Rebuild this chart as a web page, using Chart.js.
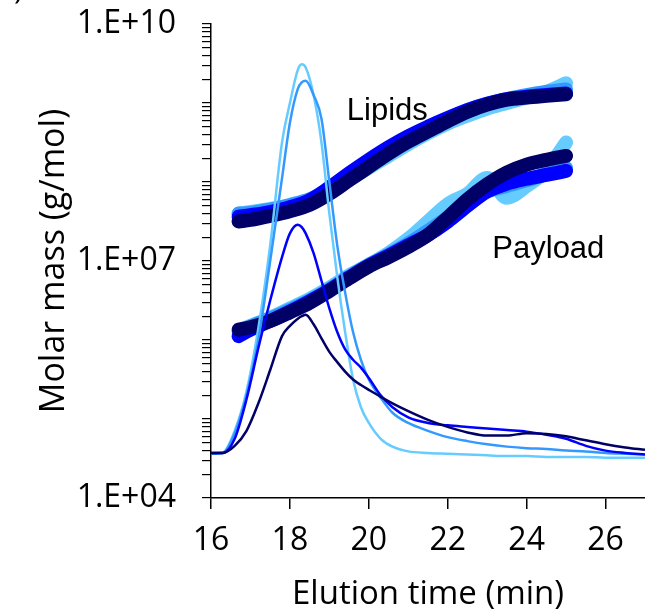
<!DOCTYPE html>
<html>
<head>
<meta charset="utf-8">
<script src="https://cdn.jsdelivr.net/npm/chart.js@4.4.0/dist/chart.umd.min.js"></script>
<style>
    html, body { margin: 0; padding: 0; background: #fff; }
    #wrap { width: 645px; height: 610px; }
</style>
</head>
<body>
<div id="wrap"><canvas id="myChart" width="645" height="610"></canvas></div>
<script>
// elution times of the detector traces (min)
const tiempoTraza = [16.0, 16.3, 16.6, 16.9, 17.2, 17.5, 17.8, 18.0, 18.2, 18.3, 18.4, 18.6, 18.8, 19.0, 19.2, 19.4,
    19.6, 19.8, 20.0, 20.3, 20.6, 21.0, 21.5, 22.0, 22.5, 23.0, 23.5, 24.0, 24.5, 25.0, 25.5, 26.0, 26.5, 27.0];

const trazaCeleste = [3.72e4, 3.80e4, 7.08e4, 2.24e5, 1.41e6, 1.58e7, 3.16e8, 1.00e9, 2.63e9, 3.09e9, 2.82e9, 1.26e9,
    3.16e8, 3.98e7, 6.31e6, 1.26e6, 3.16e5, 1.41e5, 8.91e4, 5.62e4, 4.47e4, 3.89e4, 3.72e4, 3.63e4, 3.55e4, 3.47e4,
    3.39e4, 3.39e4, 3.31e4, 3.31e4, 3.31e4, 3.24e4, 3.24e4, 3.24e4];
const trazaMedia = [3.63e4, 3.72e4, 6.61e4, 2.00e5, 1.00e6, 1.00e7, 1.12e8, 5.62e8, 1.51e9, 1.82e9, 1.91e9, 1.26e9,
    6.31e8, 1.00e8, 1.58e7, 3.98e6, 1.26e6, 5.62e5, 3.16e5, 1.86e5, 1.20e5, 8.91e4, 7.08e4, 5.89e4, 5.25e4, 4.79e4,
    4.47e4, 4.27e4, 4.17e4, 3.98e4, 3.89e4, 3.72e4, 3.63e4, 3.55e4];
const trazaAzul = [3.72e4, 3.72e4, 5.62e4, 1.78e5, 7.94e5, 3.16e6, 1.12e7, 2.24e7, 2.88e7, 2.69e7, 2.24e7, 1.26e7,
    5.62e6, 2.51e6, 1.26e6, 7.59e5, 5.62e5, 4.47e5, 3.31e5, 2.00e5, 1.41e5, 1.05e5, 8.91e4, 8.32e4, 7.94e4, 7.59e4,
    7.24e4, 6.92e4, 6.31e4, 5.62e4, 4.57e4, 3.98e4, 3.72e4, 3.55e4];
const trazaMarino = [3.72e4, 3.72e4, 4.57e4, 7.08e4, 1.58e5, 4.17e5, 1.12e6, 1.51e6, 1.86e6, 2.00e6, 2.09e6, 1.58e6,
    1.05e6, 7.08e5, 5.25e5, 3.98e5, 3.16e5, 2.69e5, 2.34e5, 1.91e5, 1.58e5, 1.26e5, 9.77e4, 7.94e4, 6.76e4, 6.17e4,
    6.17e4, 6.61e4, 6.46e4, 6.03e4, 5.37e4, 4.79e4, 4.37e4, 4.07e4];

// elution times of the molar mass points (min)
const tiempoMasa = [16.7, 17.0, 17.5, 18.0, 18.5, 19.0, 19.5, 20.0, 20.5, 21.0, 21.5, 22.0, 22.5, 23.0, 23.5, 24.0, 24.5, 25.0];

// molar mass, lipids (g/mol)
const lipidosCeleste = [3.98e7, 4.17e7, 4.57e7, 5.01e7, 5.75e7, 7.59e7, 1.07e8, 1.51e8, 2.14e8, 3.02e8, 4.17e8, 5.50e8,
    6.92e8, 8.51e8, 1.00e9, 1.17e9, 1.38e9, 1.78e9];
const lipidosMedia = [3.98e7, 4.07e7, 4.47e7, 5.13e7, 6.03e7, 8.13e7, 1.17e8, 1.74e8, 2.57e8, 3.55e8, 4.79e8, 6.31e8,
    8.13e8, 9.77e8, 1.12e9, 1.26e9, 1.38e9, 1.48e9];
const lipidosAzul = [3.63e7, 3.80e7, 4.17e7, 4.79e7, 5.89e7, 8.51e7, 1.29e8, 1.91e8, 2.75e8, 3.80e8, 5.01e8, 6.46e8,
    8.13e8, 9.77e8, 1.12e9, 1.20e9, 1.26e9, 1.32e9];
const lipidosMarino = [3.16e7, 3.31e7, 3.72e7, 4.27e7, 5.13e7, 7.08e7, 1.05e8, 1.55e8, 2.29e8, 3.24e8, 4.37e8, 5.89e8,
    7.76e8, 9.55e8, 1.10e9, 1.17e9, 1.23e9, 1.29e9];

// molar mass, payload (g/mol)
const cargaCeleste = [1.32e6, 1.51e6, 1.91e6, 2.51e6, 3.31e6, 4.57e6, 6.61e6, 8.91e6, 1.26e7, 1.91e7, 3.16e7, 5.25e7,
    7.08e7, 1.12e8, 6.31e7, 8.91e7, 1.41e8, 3.16e8];
const cargaMedia = [1.26e6, 1.48e6, 1.86e6, 2.40e6, 3.16e6, 4.37e6, 6.31e6, 8.91e6, 1.20e7, 1.66e7, 2.40e7, 3.55e7,
    5.25e7, 7.59e7, 8.91e7, 1.05e8, 1.26e8, 1.51e8];
const cargaAzul = [1.12e6, 1.35e6, 1.74e6, 2.29e6, 3.09e6, 4.27e6, 6.17e6, 8.71e6, 1.17e7, 1.58e7, 2.14e7, 3.16e7,
    5.01e7, 7.59e7, 9.55e7, 1.10e8, 1.23e8, 1.38e8];
const cargaMarino = [1.35e6, 1.45e6, 1.74e6, 2.24e6, 2.95e6, 4.17e6, 6.03e6, 8.51e6, 1.12e7, 1.51e7, 2.14e7, 3.55e7,
    6.03e7, 9.33e7, 1.32e8, 1.66e8, 1.91e8, 2.14e8];

// axis ticks and labels
const ticksX = [16, 18, 20, 22, 24, 26];
const etiquetasY = { 1e4: '1.E+04', 1e7: '1.E+07', 1e10: '1.E+10' };

// text labels inside the plot: [text, time, molar mass]
const rotulos = [['Lipids', 20.47, 6.1e8], ['Payload', 24.55, 1.08e7]];

const celeste = '#66CCFF';
const media = '#3399FF';
const azul = '#0000FF';
const marino = '#000066';

function puntos(tiempos, valores) {
    return tiempos.map((t, i) => ({ x: t, y: valores[i] }));
}

function traza(valores, color, orden) {
    return {
        data: puntos(tiempoTraza, valores),
        borderColor: color,
        borderWidth: 2.5,
        pointRadius: 0,
        cubicInterpolationMode: 'monotone',
        order: orden
    };
}

function banda(valores, color, orden) {
    return {
        data: puntos(tiempoMasa, valores),
        borderColor: color,
        borderWidth: 14,
        borderCapStyle: 'round',
        borderJoinStyle: 'round',
        pointRadius: 0,
        cubicInterpolationMode: 'monotone',
        order: orden
    };
}

const fuenteTicks = { family: 'Open Sans', size: 32 };

// text labels and the cut-off panel letter
const pluginRotulos = {
    id: 'rotulos',
    afterDatasetsDraw(chart) {
        const ctx = chart.ctx;
        const x = chart.scales.x;
        const y = chart.scales.y;
        ctx.save();
        ctx.fillStyle = '#000';
        ctx.font = '31px "Liberation Sans"';
        ctx.textAlign = 'center';
        ctx.textBaseline = 'alphabetic';
        rotulos.forEach(r => {
            ctx.fillText(r[0], x.getPixelForValue(r[1]), y.getPixelForValue(r[2]));
        });
        ctx.font = '30px "Open Sans"';
        ctx.textAlign = 'left';
        ctx.fillText(')', 14, -1);
        ctx.restore();
    }
};

const ctx = document.getElementById('myChart').getContext('2d');
const myChart = new Chart(ctx, {
    type: 'line',
    data: {
        datasets: [
            traza(trazaMarino, marino, 0),
            traza(trazaAzul, azul, 1),
            traza(trazaMedia, media, 2),
            traza(trazaCeleste, celeste, 3),
            banda(lipidosMarino, marino, 4),
            banda(cargaMarino, marino, 4),
            banda(lipidosAzul, azul, 5),
            banda(cargaAzul, azul, 5),
            banda(lipidosMedia, media, 6),
            banda(cargaMedia, media, 6),
            banda(lipidosCeleste, celeste, 7),
            banda(cargaCeleste, celeste, 7)
        ]
    },
    options: {
        responsive: false,
        animation: false,
        devicePixelRatio: 1,
        layout: { padding: { top: 24, right: 0, left: 0, bottom: 0 } },
        plugins: { legend: { display: false }, tooltip: { enabled: false } },
        scales: {
            x: {
                type: 'linear',
                min: 16,
                max: 27,
                afterFit: s => { s.height = 112; s.paddingLeft = 0; s.paddingRight = 0; },
                afterBuildTicks: s => { s.ticks = ticksX.map(v => ({ value: v })); },
                grid: { drawOnChartArea: false, color: '#000', tickLength: 11, lineWidth: 1.5 },
                border: { color: '#000', width: 1.5 },
                ticks: { color: '#000', font: fuenteTicks, padding: 13, maxRotation: 0 },
                title: {
                    display: true,
                    text: 'Elution time (min)',
                    color: '#000',
                    font: { family: 'Open Sans', size: 33, lineHeight: 1 },
                    padding: { top: 0, bottom: -1 }
                }
            },
            y: {
                type: 'logarithmic',
                min: 1e4,
                max: 1e10,
                afterFit: s => { s.width = 211; s.paddingTop = 0; s.paddingBottom = 0; },
                afterBuildTicks: s => {
                    const marcas = [];
                    for (let e = 4; e <= 10; e++) {
                        for (let m = 1; m <= 9; m++) {
                            if (e === 10 && m > 1) break;
                            marcas.push({ value: m * Math.pow(10, e) });
                        }
                    }
                    s.ticks = marcas;
                },
                grid: { drawOnChartArea: false, color: '#000', tickLength: 9, lineWidth: 1.2 },
                border: { color: '#000', width: 1.5 },
                ticks: {
                    color: '#000',
                    font: fuenteTicks,
                    padding: 26,
                    autoSkip: false,
                    callback: v => etiquetasY[v] || ''
                },
                title: {
                    display: true,
                    text: 'Molar mass (g/mol)',
                    color: '#000',
                    font: { family: 'Open Sans', size: 34, lineHeight: 1 },
                    padding: { top: 37, bottom: 0 }
                }
            }
        }
    },
    plugins: [pluginRotulos]
});
</script>
</body>
</html>
